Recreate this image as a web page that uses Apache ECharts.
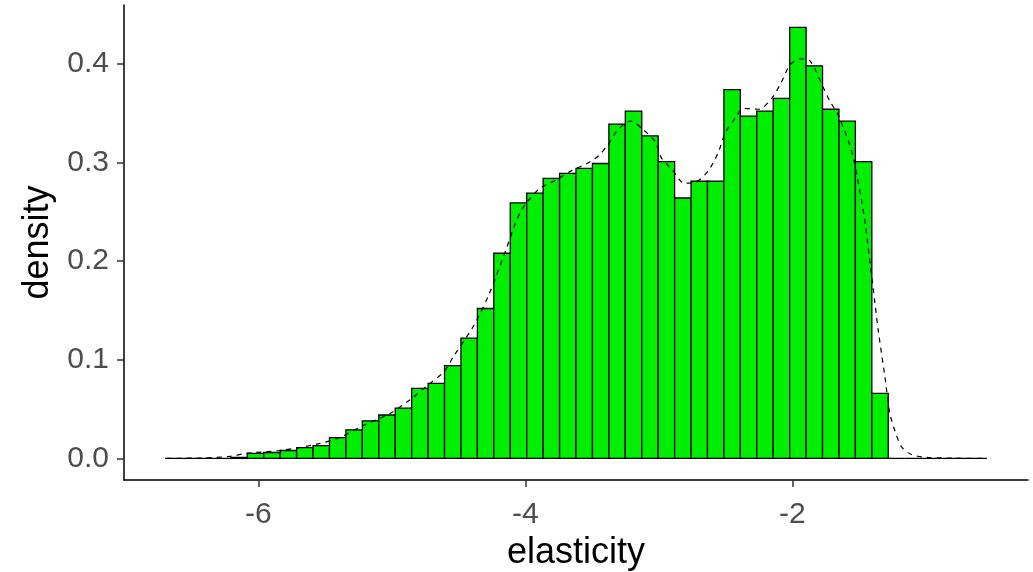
<!DOCTYPE html>
<html>
<head>
<meta charset="utf-8">
<script src="https://cdn.jsdelivr.net/npm/echarts@6/dist/echarts.min.js"></script>
<style>
html,body{margin:0;padding:0;background:#fff;}
#chart{width:1033px;height:572px;}
</style>
</head>
<body>
<div id="chart"></div>
<script>
// Histogram bins (elasticity)
var binStart = -6.698;
var binWidth = 0.1231;
var binDensity = [
  0, 0, 0, 0, 0.001, 0.005, 0.006, 0.008, 0.011, 0.013,
  0.021, 0.029, 0.038, 0.044, 0.051, 0.071, 0.076, 0.094, 0.122, 0.152,
  0.208, 0.259, 0.269, 0.284, 0.289, 0.294, 0.299, 0.339, 0.352, 0.327,
  0.301, 0.264, 0.281, 0.281, 0.374, 0.347, 0.352, 0.365, 0.437, 0.398,
  0.354, 0.342, 0.301, 0.066, 0, 0, 0, 0, 0, 0
];
// Kernel density curve (x, density)
var densX = [-6.686, -6.425, -6.217, -6.092, -5.843, -5.693, -5.544, -5.394, -5.220, -5.021,
  -4.858, -4.734, -4.609, -4.535, -4.385, -4.273, -4.144, -4.036, -3.899, -3.774,
  -3.650, -3.538, -3.450, -3.376, -3.314, -3.213, -3.114, -3.027, -2.982, -2.902,
  -2.807, -2.727, -2.628, -2.553, -2.503, -2.428, -2.366, -2.254, -2.155, -2.080,
  -2.017, -1.942, -1.868, -1.768, -1.718, -1.656, -1.557, -1.507, -1.456, -1.419,
  -1.382, -1.357, -1.307, -1.270, -1.232, -1.183, -1.108, -0.983, -0.549];
var densY = [0, 0.0005, 0.002, 0.005, 0.008, 0.011, 0.015, 0.021, 0.033, 0.045,
  0.060, 0.074, 0.088, 0.104, 0.135, 0.166, 0.212, 0.250, 0.273, 0.282,
  0.292, 0.299, 0.307, 0.319, 0.332, 0.342, 0.333, 0.321, 0.305, 0.293,
  0.279, 0.280, 0.292, 0.311, 0.330, 0.345, 0.355, 0.354, 0.365, 0.382,
  0.399, 0.405, 0.403, 0.376, 0.362, 0.348, 0.312, 0.280, 0.240, 0.199,
  0.158, 0.130, 0.083, 0.046, 0.028, 0.012, 0.004, 0.001, 0];
var xTicks = [-6, -4, -2];
var yTicks = [0, 0.1, 0.2, 0.3, 0.4];
var xName = 'elasticity';
var yName = 'density';

var histData = binDensity.map(function (d, i) {
  var x0 = binStart + i * binWidth;
  return [x0, x0 + binWidth, d];
});
var densData = densX.map(function (x, i) { return [x, densY[i]]; });

var chart = echarts.init(document.getElementById('chart'), null, {renderer: 'canvas'});
var font = 'Liberation Sans, Arial, sans-serif';
chart.setOption({
  animation: false,
  backgroundColor: '#ffffff',
  grid: {left: 124, right: 5, top: 5, bottom: 92, containLabel: false, outerBoundsMode: 'none'},
  xAxis: {
    type: 'value', min: -7.006, max: -0.235,
    name: xName, nameLocation: 'middle', nameGap: 54,
    nameTextStyle: {color: '#000', fontSize: 36, fontFamily: font},
    splitLine: {show: false},
    axisLine: {onZero: false, lineStyle: {color: '#000', width: 1.5}},
    axisTick: {customValues: xTicks, length: 7, lineStyle: {color: '#333', width: 1.5}},
    axisLabel: {customValues: xTicks, color: '#4d4d4d', fontSize: 30, fontFamily: font, margin: 20}
  },
  yAxis: {
    type: 'value', min: -0.0219, max: 0.4597,
    name: yName, nameLocation: 'middle', nameGap: 66, nameRotate: 90,
    nameTextStyle: {color: '#000', fontSize: 36, fontFamily: font},
    splitLine: {show: false},
    axisLine: {onZero: false, lineStyle: {color: '#000', width: 1.5}},
    axisTick: {customValues: yTicks, length: 7, lineStyle: {color: '#333', width: 1.5}},
    axisLabel: {customValues: yTicks, color: '#4d4d4d', fontSize: 30, fontFamily: font, margin: 15,
      formatter: function (v) { return v.toFixed(1); }}
  },
  series: [{
    type: 'custom',
    z: 2,
    data: histData,
    renderItem: function (params, api) {
      var p0 = api.coord([api.value(0), api.value(2)]);
      var p1 = api.coord([api.value(1), 0]);
      return {
        type: 'rect',
        shape: {x: p0[0], y: p0[1], width: p1[0] - p0[0], height: p1[1] - p0[1]},
        style: {fill: '#00ee00', stroke: '#000', lineWidth: 1.3}
      };
    }
  }, {
    type: 'line',
    z: 3,
    data: densData,
    showSymbol: false,
    smooth: 0.3,
    lineStyle: {color: '#000', width: 1.2, type: [5, 5]}
  }]
});
</script>
</body>
</html>
